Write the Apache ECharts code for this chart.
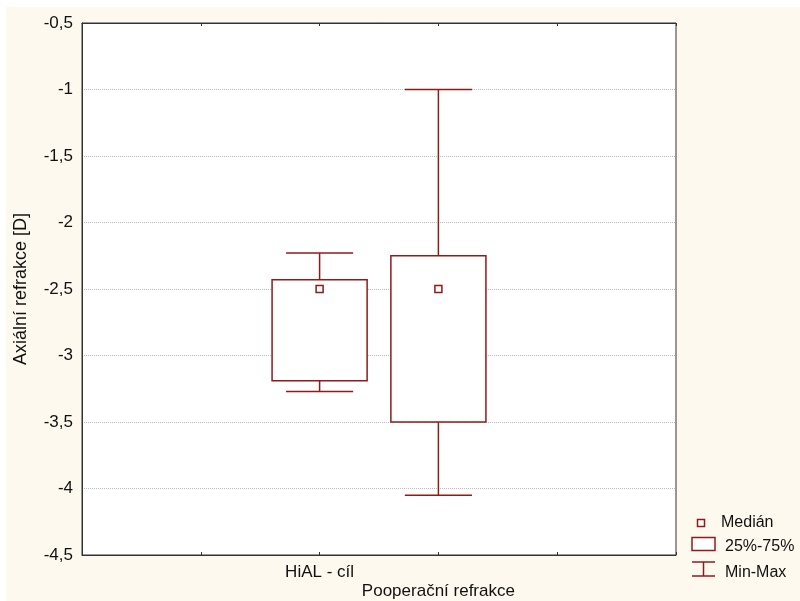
<!DOCTYPE html>
<html>
<head>
<meta charset="utf-8">
<script src="https://cdn.jsdelivr.net/npm/echarts@6/dist/echarts.min.js"></script>
<style>
  html, body { margin: 0; padding: 0; background: #ffffff; }
  #chart { width: 800px; height: 601px; }
</style>
</head>
<body>
<div id="chart"></div>
<script>
// Category slots along the x axis (boxes sit on slots 2 and 3)
const categories = ['', '', 'HiAL - cíl', 'Pooperační refrakce', '', ''];
const boxSlots = [2, 3];

// Box statistics per variable
const minValues    = [-3.27, -4.05];
const q1Values     = [-3.19, -3.50];
const medianValues = [-2.50, -2.50];
const q3Values     = [-2.43, -2.25];
const maxValues    = [-2.23, -1.00];

// Value axis range and tick step
const yMin = -4.5;
const yMax = -0.5;
const yStep = 0.5;

// Legend entries
const legendLabels = ['Medián', '25%-75%', 'Min-Max'];

const RED = '#8e1b1b';
const FONT = 'Liberation Sans, Arial, sans-serif';

const boxData = boxSlots.map((slot, i) => [
  slot, minValues[i], q1Values[i], medianValues[i], q3Values[i], maxValues[i]
]);

function renderBox(params, api) {
  const x = api.value(0);
  const pMin = api.coord([x, api.value(1)]);
  const pQ1 = api.coord([x, api.value(2)]);
  const pMed = api.coord([x, api.value(3)]);
  const pQ3 = api.coord([x, api.value(4)]);
  const pMax = api.coord([x, api.value(5)]);
  const step = api.coord([x + 1, 0])[0] - api.coord([x, 0])[0];
  const boxW = step * 0.8;
  const capW = step * 0.565;
  const cx = pMed[0];
  const line = (x1, y1, x2, y2, w) => ({
    type: 'line',
    shape: { x1, y1, x2, y2 },
    style: { stroke: RED, lineWidth: w }
  });
  return {
    type: 'group',
    children: [
      line(cx, pQ3[1], cx, pMax[1], 1.5),
      line(cx - capW / 2, pMax[1], cx + capW / 2, pMax[1], 1.5),
      line(cx, pQ1[1], cx, pMin[1], 1.5),
      line(cx - capW / 2, pMin[1], cx + capW / 2, pMin[1], 1.5),
      {
        type: 'rect',
        shape: { x: cx - boxW / 2, y: pQ3[1], width: boxW, height: pQ1[1] - pQ3[1] },
        style: { fill: '#ffffff', stroke: RED, lineWidth: 1.5 }
      },
      {
        type: 'rect',
        shape: { x: cx - 3.5, y: pMed[1] - 3.5, width: 7, height: 7 },
        style: { fill: '#ffffff', stroke: RED, lineWidth: 1.5 }
      }
    ]
  };
}

const chart = echarts.init(document.getElementById('chart'), null, { renderer: 'canvas' });

chart.setOption({
  backgroundColor: '#ffffff',
  animation: false,
  grid: {
    left: 82, top: 23, right: 124, bottom: 45,
    show: true, backgroundColor: '#ffffff', borderColor: '#333333', borderWidth: 1
  },
  xAxis: [
    {
      type: 'category',
      data: categories,
      boundaryGap: false,
      position: 'bottom',
      axisLine: { show: true, lineStyle: { color: '#333333', width: 1 } },
      axisTick: { show: true, inside: true, length: 3, interval: 0, lineStyle: { color: '#333333' } },
      axisLabel: {
        interval: 0, margin: 8, lineHeight: 19,
        fontFamily: FONT, fontSize: 17, color: '#111111',
        formatter: (v, i) => (i === 3 ? '\n' + v : v)
      },
      splitLine: { show: false }
    },
    {
      type: 'category',
      data: categories,
      boundaryGap: false,
      position: 'top',
      axisLine: { show: true, lineStyle: { color: '#333333', width: 1 } },
      axisTick: { show: true, inside: true, length: 3, interval: 0, lineStyle: { color: '#333333' } },
      axisLabel: { show: false },
      splitLine: { show: false }
    }
  ],
  yAxis: {
    type: 'value',
    min: yMin, max: yMax, interval: yStep,
    name: 'Axiální refrakce [D]',
    nameLocation: 'middle',
    nameGap: 52,
    nameTextStyle: { fontFamily: FONT, fontSize: 18, color: '#111111' },
    axisLine: { show: true, lineStyle: { color: '#333333', width: 1 } },
    axisTick: { show: false },
    axisLabel: {
      margin: 9, fontFamily: FONT, fontSize: 17, color: '#111111',
      formatter: v => String(Math.round(v * 10) / 10).replace('.', ',')
    },
    splitLine: { show: true, lineStyle: { color: '#bdbdbd', width: 1, type: [1, 1] } }
  },
  series: [
    {
      type: 'custom',
      name: 'Box',
      renderItem: renderBox,
      data: boxData,
      encode: { x: 0, y: [1, 2, 3, 4, 5] },
      z: 5
    }
  ],
  graphic: [
    {
      type: 'rect', z: -10, silent: true,
      shape: { x: 6, y: 7, width: 794, height: 594 },
      style: { fill: '#fef9ef' }
    },
    { type: 'rect', silent: true, shape: { x: 697.5, y: 519.5, width: 7, height: 7 },
      style: { fill: '#ffffff', stroke: RED, lineWidth: 1.5 } },
    { type: 'text', silent: true, x: 721, y: 523,
      style: { text: legendLabels[0], font: '16px ' + FONT, fill: '#111111', verticalAlign: 'middle' } },
    { type: 'rect', silent: true, shape: { x: 692, y: 537.5, width: 23, height: 13 },
      style: { fill: '#ffffff', stroke: RED, lineWidth: 1.5 } },
    { type: 'text', silent: true, x: 725, y: 547,
      style: { text: legendLabels[1], font: '16px ' + FONT, fill: '#111111', verticalAlign: 'middle' } },
    { type: 'line', silent: true, shape: { x1: 692, y1: 562, x2: 715, y2: 562 }, style: { stroke: RED, lineWidth: 1.5 } },
    { type: 'line', silent: true, shape: { x1: 703.5, y1: 562, x2: 703.5, y2: 576 }, style: { stroke: RED, lineWidth: 1.5 } },
    { type: 'line', silent: true, shape: { x1: 692, y1: 576, x2: 715, y2: 576 }, style: { stroke: RED, lineWidth: 1.5 } },
    { type: 'text', silent: true, x: 725, y: 573,
      style: { text: legendLabels[2], font: '16px ' + FONT, fill: '#111111', verticalAlign: 'middle' } }
  ]
});
</script>
</body>
</html>
